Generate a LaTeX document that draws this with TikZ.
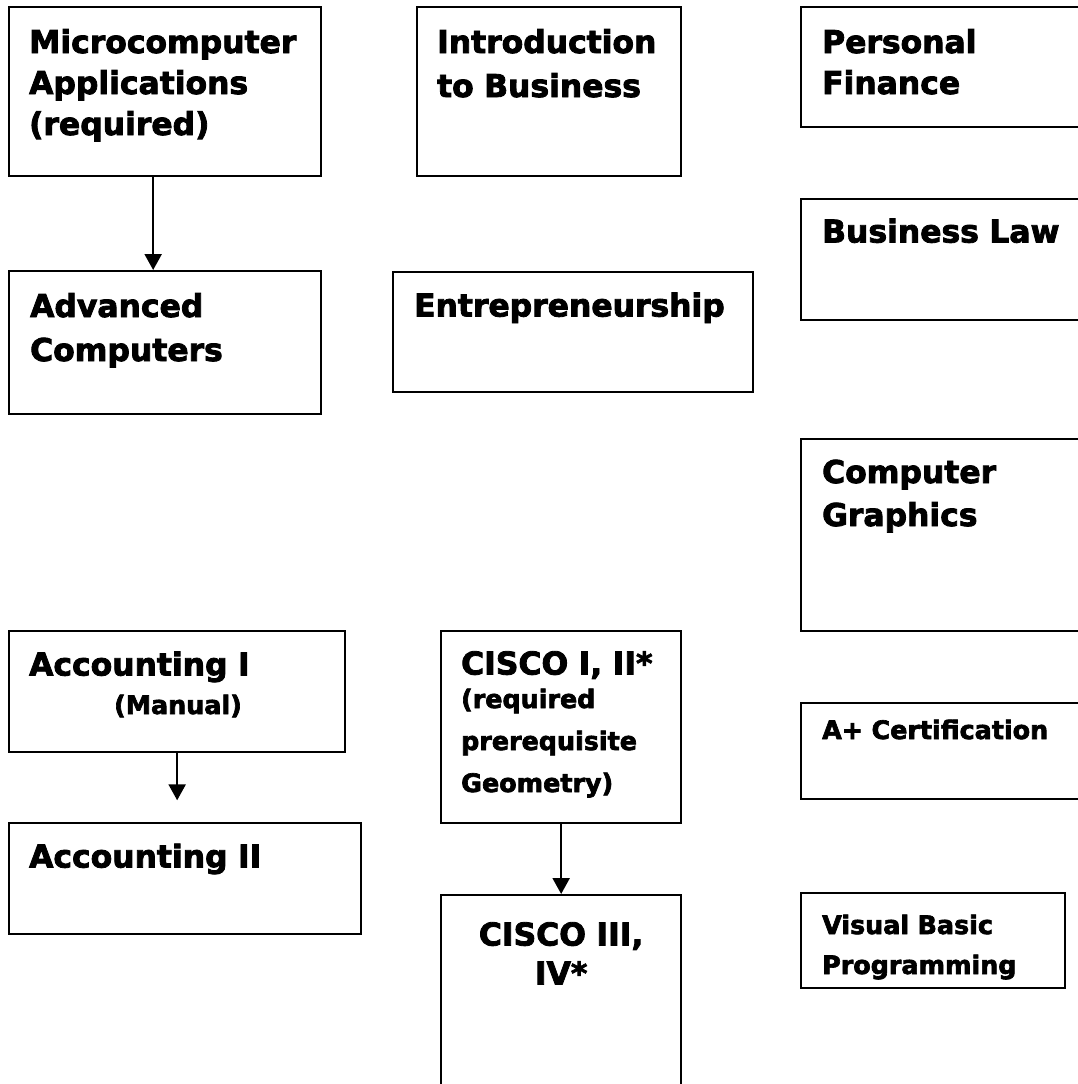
\documentclass[tikz,border=0pt]{standalone}
\usepackage{fontspec}
\setmainfont{DejaVu Sans}[BoldFeatures={FakeBold=2.6}]
\usetikzlibrary{arrows.meta}

\newcommand{\bigtxt}{\fontsize{31.4}{42}\selectfont\bfseries}
\newcommand{\smalltxt}{\fontsize{25.4}{42}\selectfont\bfseries}

\begin{document}
\begin{tikzpicture}[x=1pt, y=-1pt, line width=2.3pt, >={Triangle[length=16pt, width=17pt]}]
    \tikzstyle{course}=[rectangle, draw=black, line width=2.3pt, inner sep=0pt, anchor=north west]  % plain course box
    \tikzstyle{title}=[anchor=base west, inner sep=0pt, text width=320pt, align=left, font=\bigtxt]
    \tikzstyle{small title}=[title, font=\smalltxt]

    \useasboundingbox (0,0) rectangle (1078,1084);
    \clip (0,0) rectangle (1078,1084);

    % Left column
    \node[course, minimum width=312pt, minimum height=169pt] (micro) at (8,6) {};
    \node[course, minimum width=312pt, minimum height=143pt] (advcomp) at (8,270) {};
    \node[course, minimum width=336pt, minimum height=121pt] (acct1) at (8,630) {};
    \node[course, minimum width=352pt, minimum height=111pt] (acct2) at (8,822) {};

    % Middle column
    \node[course, minimum width=264pt, minimum height=169pt] (intro) at (416,6) {};
    \node[course, minimum width=360pt, minimum height=120pt] (entre) at (392,271) {};
    \node[course, minimum width=240pt, minimum height=192pt] (cisco1) at (440,630) {};
    \node[course, minimum width=240pt, minimum height=206pt] (cisco3) at (440,894) {};

    % Right column (runs off the page)
    \node[course, minimum width=300pt, minimum height=120pt] (persfin) at (800,6) {};
    \node[course, minimum width=300pt, minimum height=121pt] (buslaw) at (800,198) {};
    \node[course, minimum width=300pt, minimum height=192pt] (graphics) at (800,438) {};
    \node[course, minimum width=300pt, minimum height=96pt] (aplus) at (800,702) {};
    \node[course, minimum width=264pt, minimum height=95pt] (vbasic) at (800,892) {};

    % Course names
    \node[title] (micro-t) at ([shift={(20,47)}]micro.north west) {Microcomputer\\[-1pt]Applications\\[-1pt](required)};
    \node[title] (advcomp-t) at ([shift={(21,47)}]advcomp.north west) {Advanced\\[2pt]Computers};
    \node[title] (acct1-t) at ([shift={(20,45.5)}]acct1.north west) {Accounting I\\[-3.5pt]\hspace*{85pt}\smalltxt (Manual)};
    \node[title] (acct2-t) at ([shift={(20,45.5)}]acct2.north west) {Accounting II};
    \node[title] (intro-t) at ([shift={(20,47)}]intro.north west) {Introduction\\[2pt]to Business};
    \node[title] (entre-t) at ([shift={(21,45.5)}]entre.north west) {Entrepreneurship};
    \node[title] (cisco1-t) at ([shift={(20,44.5)}]cisco1.north west) {CISCO I, II*\\[-8.5pt]\smalltxt (required\\prerequisite\\Geometry)};
    \node[title, anchor=base, text width=240pt, align=center] (cisco3-t) at ([shift={(0,51.5)}]cisco3.north) {CISCO III,\\[-3pt]IV*};
    \node[title] (persfin-t) at ([shift={(21,47)}]persfin.north west) {Personal\\[-1pt]Finance};
    \node[title] (buslaw-t) at ([shift={(21,44.5)}]buslaw.north west) {Business Law};
    \node[title] (graphics-t) at ([shift={(21,45)}]graphics.north west) {Computer\\[1pt]Graphics};
    \node[small title] (aplus-t) at ([shift={(21,37)}]aplus.north west) {A+ Certification};
    \node[small title] (vbasic-t) at ([shift={(21,42)}]vbasic.north west) {Visual Basic\\[-2pt]Programming};

    % Prerequisite arrows
    \coordinate (acct-end) at ([yshift=-47pt]acct1.south);
    \draw[->] ([xshift=-12pt]micro.south) -- ([xshift=-12pt]advcomp.north);
    \draw[->] (acct1.south) -- (acct-end);
    \draw[->] (cisco1.south) -- (cisco3.north);
\end{tikzpicture}
\end{document}
